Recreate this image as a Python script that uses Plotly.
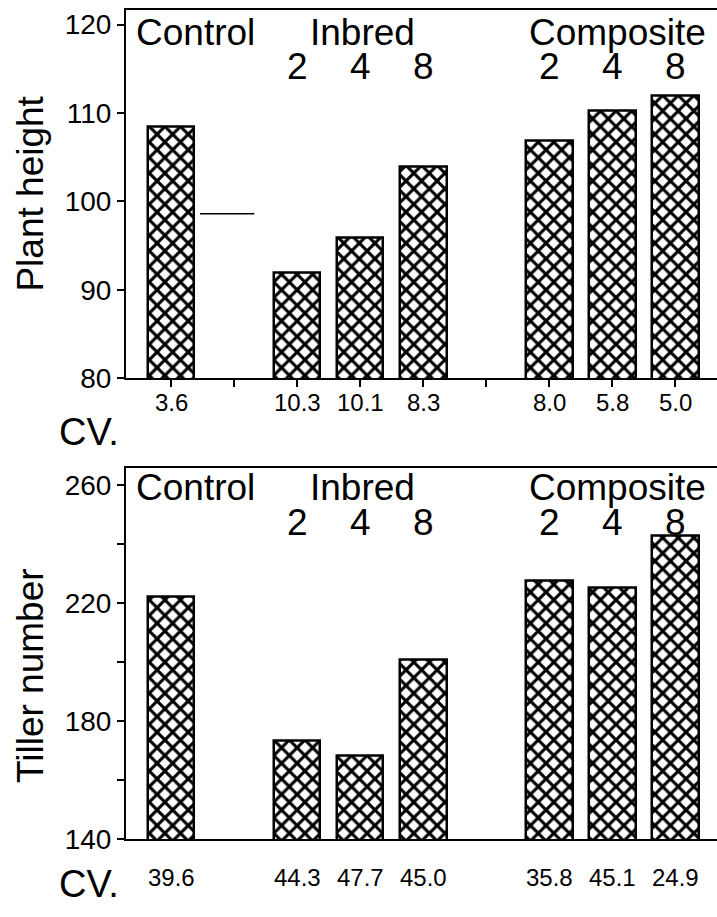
import plotly.graph_objects as go

# ---------------- data ----------------
slot_order = ["Control", "gap A", "Inbred 2", "Inbred 4", "Inbred 8",
              "gap B", "Composite 2", "Composite 4", "Composite 8"]
bar_categories = ["Control", "Inbred 2", "Inbred 4", "Inbred 8",
                  "Composite 2", "Composite 4", "Composite 8"]
plant_height = [108.4, 91.9, 95.9, 103.9, 106.8, 110.2, 111.9]
plant_height_cv = ["3.6", "10.3", "10.1", "8.3", "8.0", "5.8", "5.0"]
tiller_number = [222.1, 173.3, 168.4, 201.0, 227.8, 225.4, 242.9]
tiller_number_cv = ["39.6", "44.3", "47.7", "45.0", "35.8", "45.1", "24.9"]
height_ticks = [80, 90, 100, 110, 120]
height_ticktext = ["80", "90", "100", "110", "120"]
tiller_ticks = [140, 160, 180, 200, 220, 240, 260]
tiller_ticktext = ["140", "", "180", "", "220", "", "260"]
group_headers = ["Control", "Inbred", "Composite"]
group_header_slots = ["Control", "Inbred 4", "Composite 4"]
generation_labels = ["2", "4", "8", "2", "4", "8"]
generation_slots = ["Inbred 2", "Inbred 4", "Inbred 8",
                    "Composite 2", "Composite 4", "Composite 8"]
height_ref_value = 98.6   # short horizontal mark in upper panel

# ---------------- layout helpers ----------------
W, H = 717, 917
FONT = "Liberation Sans, Arial, Helvetica, sans-serif"


def py(p):
    return 1 - p / H


def px(p):
    return p / W


x_left = px(126)
top_dom = [py(385), py(10)]
bot_dom = [py(854), py(476)]
x_range = [-0.714, 8.66]

pattern = dict(shape="x", size=11, solidity=0.48, fgcolor="black", fgopacity=1,
               bgcolor="white")

fig = go.Figure()
fig.add_trace(go.Bar(
    x=bar_categories, y=plant_height, width=0.74,
    marker=dict(color="white", line=dict(color="black", width=2.5), pattern=pattern),
    xaxis="x", yaxis="y", showlegend=False, hoverinfo="x+y"))
fig.add_trace(go.Bar(
    x=bar_categories, y=tiller_number, width=0.74,
    marker=dict(color="white", line=dict(color="black", width=2.5), pattern=pattern),
    xaxis="x2", yaxis="y2", showlegend=False, hoverinfo="x+y"))

axis_common = dict(showline=True, linecolor="black", linewidth=2, showgrid=False,
                   zeroline=False)

fig.update_layout(
    width=W, height=H,
    margin=dict(l=0, r=0, t=0, b=0),
    paper_bgcolor="white", plot_bgcolor="white",
    font=dict(family=FONT, color="black"),
    bargap=0,
    xaxis=dict(domain=[x_left, 1], anchor="y", type="category",
               categoryorder="array", categoryarray=slot_order, range=x_range,
               mirror=True, ticks="outside", ticklen=7, tickwidth=2, tickcolor="black",
               tickvals=slot_order, showticklabels=False, **axis_common),
    yaxis=dict(domain=top_dom, anchor="x", range=[80, 121.67],
               tickvals=height_ticks, ticktext=height_ticktext,
               ticks="outside", ticklen=7, tickwidth=2, tickcolor="black",
               tickfont=dict(size=28, family=FONT, color="black"), **axis_common),
    xaxis2=dict(domain=[x_left, 1], anchor="y2", type="category",
                categoryorder="array", categoryarray=slot_order, range=x_range,
                mirror=True, ticks="", showticklabels=False, **axis_common),
    yaxis2=dict(domain=bot_dom, anchor="x2", range=[140, 266],
                tickvals=tiller_ticks, ticktext=tiller_ticktext,
                ticks="outside", ticklen=7, tickwidth=2, tickcolor="black",
                tickfont=dict(size=28, family=FONT, color="black"), **axis_common),
)

ann = []
# group headers and generation numbers
for xr, header_y, gen_y in [("x", 33, 68), ("x2", 496, 532)]:
    for name, slot in zip(group_headers, group_header_slots):
        shift = 24 if name == "Control" else (5 if name == "Composite" else 2)
        ann.append(dict(x=slot, y=py(header_y), xref=xr, yref="paper", text=name,
                        showarrow=False, xanchor="center", yanchor="middle",
                        xshift=shift, font=dict(size=37, family=FONT, color="black")))
    for lab, slot in zip(generation_labels, generation_slots):
        ann.append(dict(x=slot, y=py(gen_y), xref=xr, yref="paper", text=lab,
                        showarrow=False, xanchor="center", yanchor="middle",
                        font=dict(size=37, family=FONT, color="black")))

# CV values
for cat, cv in zip(bar_categories, plant_height_cv):
    ann.append(dict(x=cat, y=py(410), xref="x", yref="paper", text=cv, showarrow=False,
                    xanchor="center", yanchor="middle",
                    font=dict(size=24, family=FONT, color="black")))
for cat, cv in zip(bar_categories, tiller_number_cv):
    ann.append(dict(x=cat, y=py(893), xref="x2", yref="paper", text=cv, showarrow=False,
                    xanchor="center", yanchor="middle",
                    font=dict(size=24, family=FONT, color="black")))
for cy in (440, 900):
    ann.append(dict(x=px(57), y=py(cy), xref="paper", yref="paper", text="CV.",
                    showarrow=False, xanchor="left", yanchor="middle",
                    font=dict(size=38, family=FONT, color="black")))

# y-axis titles
ann.append(dict(x=px(31), y=py(197), xref="paper", yref="paper", text="Plant height",
                textangle=-90, showarrow=False, xanchor="center", yanchor="middle",
                font=dict(size=37, family=FONT, color="black")))
ann.append(dict(x=px(31), y=py(688), xref="paper", yref="paper", text="Tiller number",
                textangle=-90, showarrow=False, xanchor="center", yanchor="middle",
                font=dict(size=37, family=FONT, color="black")))
fig.update_layout(annotations=ann)

# short reference mark in the upper panel
fig.add_shape(type="line", xref="x", yref="y", x0=0.46, x1=1.32,
              y0=height_ref_value, y1=height_ref_value,
              line=dict(color="black", width=1.5))

fig.write_html("out.html")
